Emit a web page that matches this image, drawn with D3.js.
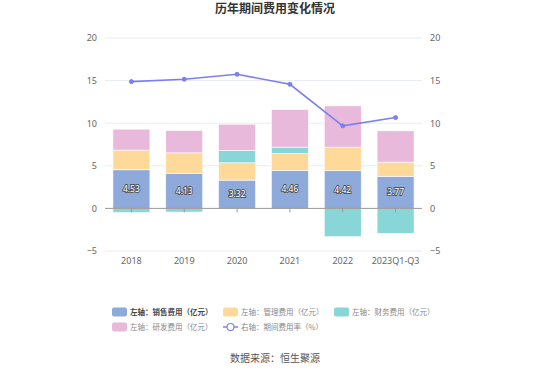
<!DOCTYPE html>
<html>
<head>
<meta charset="utf-8">
<script src="https://cdn.jsdelivr.net/npm/d3@7"></script>
<style>
  body { margin: 0; background: #fff; font-family: "Noto Sans CJK SC", "Noto Sans", sans-serif; }
  svg { display: block; }
</style>
</head>
<body>
<div id="chart"></div>
<script>
// --- data ---
const categories = ["2018", "2019", "2020", "2021", "2022", "2023Q1-Q3"];
const sales   = [4.53, 4.13, 3.32, 4.46, 4.42, 3.77];
const admin   = [2.31, 2.39, 2.03, 1.99, 2.77, 1.66];
const finance = [-0.50, -0.43, 1.45, 0.74, -3.32, -2.93];
const rnd     = [2.46, 2.62, 3.08, 4.41, 4.84, 3.67];
const rate    = [14.88, 15.16, 15.74, 14.57, 9.69, 10.66];
const yTicks  = [-5, 0, 5, 10, 15, 20];

const COLORS = {
  sales: "#8eaadb",
  admin: "#ffd999",
  finance: "#88d6d8",
  rnd: "#e8b9da",
  rate: "#7b7ff0"
};

const W = 550, H = 372;
const plotLeft = 105, plotRight = 422, plotTop = 38, plotBottom = 251;

const svg = d3.select("#chart").append("svg")
  .attr("width", W).attr("height", H);

// title
svg.append("text")
  .attr("x", W / 2).attr("y", 13)
  .attr("text-anchor", "middle")
  .style("font-size", "12px").style("font-weight", "bold")
  .style("fill", "#333")
  .text("历年期间费用变化情况");

const x = d3.scaleBand().domain(categories).range([plotLeft, plotRight]).paddingInner(0.3).paddingOuter(0.15);
const y = d3.scaleLinear().domain([-5, 20]).range([plotBottom, plotTop]);
const yR = d3.scaleLinear().domain([-5, 20]).range([plotBottom, plotTop]);

// grid lines
svg.append("g").selectAll("line")
  .data(yTicks.filter(d => d !== 0))
  .enter().append("line")
  .attr("x1", plotLeft).attr("x2", plotRight)
  .attr("y1", d => y(d)).attr("y2", d => y(d))
  .attr("stroke", "#e8ecf4").attr("stroke-width", 1);

// left axis labels
svg.append("g")
  .attr("transform", `translate(${plotLeft},0)`)
  .call(d3.axisLeft(y).tickValues(yTicks).tickSize(0).tickPadding(8))
  .call(g => g.select(".domain").remove())
  .selectAll("text").style("font-size", "9px").style("fill", "#666").style("font-family", "Noto Sans, sans-serif");

// right axis labels
svg.append("g")
  .attr("transform", `translate(${plotRight},0)`)
  .call(d3.axisRight(yR).tickValues(yTicks).tickSize(0).tickPadding(8))
  .call(g => g.select(".domain").remove())
  .selectAll("text").style("font-size", "9px").style("fill", "#666").style("font-family", "Noto Sans, sans-serif");

// build stacks: positive values stack upward, negative downward
const series = [
  { key: "sales", vals: sales },
  { key: "admin", vals: admin },
  { key: "finance", vals: finance },
  { key: "rnd", vals: rnd }
];
const rects = [];
categories.forEach((c, i) => {
  let pos = 0, neg = 0;
  series.forEach(s => {
    const v = s.vals[i];
    if (v >= 0) { rects.push({ c, key: s.key, y0: pos, y1: pos + v }); pos += v; }
    else { rects.push({ c, key: s.key, y0: neg + v, y1: neg }); neg += v; }
  });
});

svg.append("g").selectAll("rect")
  .data(rects)
  .enter().append("rect")
  .attr("x", d => x(d.c))
  .attr("width", x.bandwidth())
  .attr("y", d => y(d.y1))
  .attr("height", d => y(d.y0) - y(d.y1))
  .attr("fill", d => COLORS[d.key])
  .attr("stroke", "#fff").attr("stroke-width", 0.6);

// zero axis line + ticks
svg.append("line")
  .attr("x1", plotLeft).attr("x2", plotRight)
  .attr("y1", y(0)).attr("y2", y(0))
  .attr("stroke", "#999").attr("stroke-width", 1);
svg.append("g").selectAll("line")
  .data(categories)
  .enter().append("line")
  .attr("x1", d => x(d) + x.bandwidth() / 2).attr("x2", d => x(d) + x.bandwidth() / 2)
  .attr("y1", y(0)).attr("y2", y(0) + 4)
  .attr("stroke", "#999");

// category labels
svg.append("g").selectAll("text")
  .data(categories)
  .enter().append("text")
  .attr("x", d => x(d) + x.bandwidth() / 2)
  .attr("y", y(-5) + 13)
  .attr("text-anchor", "middle")
  .style("font-size", "9px").style("fill", "#666").style("font-family", "Noto Sans, sans-serif")
  .text(d => d);

// sales value labels
svg.append("g").selectAll("text")
  .data(sales)
  .enter().append("text")
  .attr("x", (d, i) => x(categories[i]) + x.bandwidth() / 2)
  .attr("y", d => y(d / 2) + 3)
  .attr("text-anchor", "middle")
  .style("font-size", "8.5px").style("fill", "#fff")
  .style("stroke", "#555").style("stroke-width", 1.8).style("paint-order", "stroke")
  .style("font-family", "Noto Sans, sans-serif")
  .text(d => d.toFixed(2));

// rate line
const cx = (d, i) => x(categories[i]) + x.bandwidth() / 2;
const line = d3.line().x(cx).y(d => yR(d));
svg.append("path")
  .datum(rate)
  .attr("fill", "none")
  .attr("stroke", COLORS.rate).attr("stroke-width", 1.6)
  .attr("d", line);
svg.append("g").selectAll("circle")
  .data(rate)
  .enter().append("circle")
  .attr("cx", cx).attr("cy", d => yR(d))
  .attr("r", 2)
  .attr("fill", COLORS.rate).attr("stroke", COLORS.rate);

// legend
const legendItems = [
  { label: "左轴：销售费用（亿元）", key: "sales", type: "rect", col: 0, row: 0, bold: true },
  { label: "左轴：管理费用（亿元）", key: "admin", type: "rect", col: 1, row: 0 },
  { label: "左轴：财务费用（亿元）", key: "finance", type: "rect", col: 2, row: 0 },
  { label: "左轴：研发费用（亿元）", key: "rnd", type: "rect", col: 0, row: 1 },
  { label: "右轴：期间费用率（%）", key: "rate", type: "line", col: 1, row: 1 }
];
const colX = [112, 223, 334];
const rowY = [312, 327];
const lg = svg.append("g").selectAll("g")
  .data(legendItems)
  .enter().append("g")
  .attr("transform", d => `translate(${colX[d.col]},${rowY[d.row]})`);
lg.filter(d => d.type === "rect").append("rect")
  .attr("x", 0).attr("y", -4.5).attr("width", 15).attr("height", 9).attr("rx", 2)
  .attr("fill", d => COLORS[d.key]);
lg.filter(d => d.type === "line").append("line")
  .attr("x1", 0).attr("x2", 15).attr("y1", 0).attr("y2", 0)
  .attr("stroke", COLORS.rate).attr("stroke-width", 1.5);
lg.filter(d => d.type === "line").append("circle")
  .attr("cx", 7.5).attr("cy", 0).attr("r", 3.5)
  .attr("fill", "#fff").attr("stroke", COLORS.rate).attr("stroke-width", 1.2);
lg.append("text")
  .attr("x", 18).attr("y", 3)
  .style("font-size", "7.5px")
  .style("fill", d => d.bold ? "#444" : "#888")
  .style("font-weight", d => d.bold ? "bold" : "normal")
  .text(d => d.label);

// source
svg.append("text")
  .attr("x", W / 2).attr("y", 362)
  .attr("text-anchor", "middle")
  .style("font-size", "10px").style("fill", "#555")
  .text("数据来源：恒生聚源");
</script>
</body>
</html>
